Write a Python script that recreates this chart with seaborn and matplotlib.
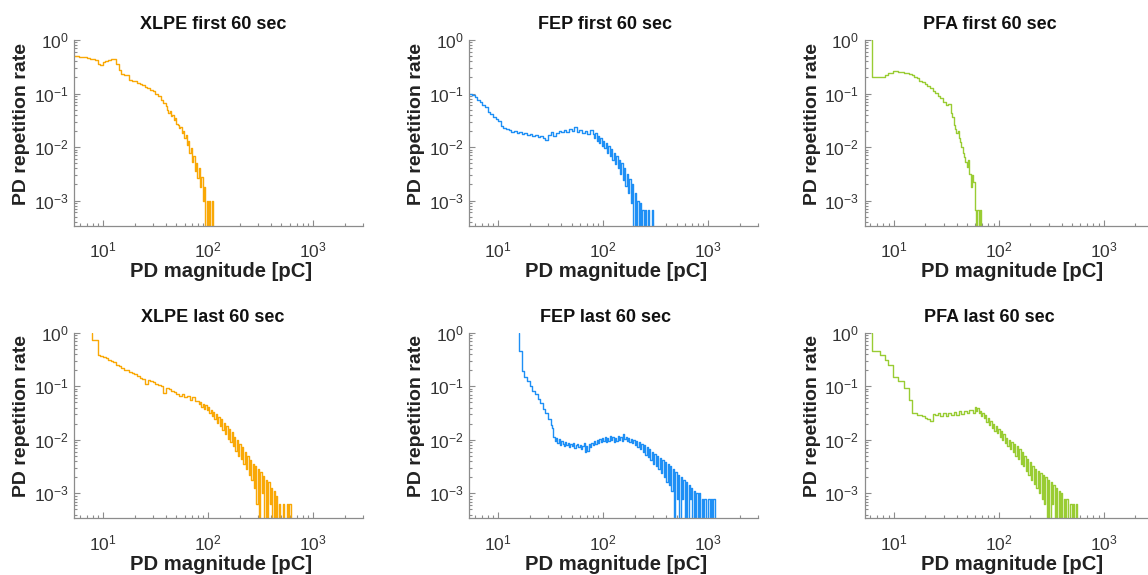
import numpy as np
import matplotlib
matplotlib.use("Agg")
import matplotlib.pyplot as plt
import seaborn as sns
from matplotlib.ticker import LogLocator, NullFormatter

# ---------------- data ----------------
# Every trace is a step histogram.  "head" bins are HEAD_STEP decades wide and start
# at *_lo [pC]; the first head entry is the level at which the trace starts at its left
# edge.  "tail" bins (noisy high-magnitude part) are TAIL_STEP decades wide and follow
# directly after the head.  0 = empty bin.
HEAD_STEP = 0.025
TAIL_STEP = 0.0125

xlpe_first_lo = 5.0
xlpe_first_head = [0.51, 0.51, 0.50, 0.50, 0.49, 0.48, 0.48, 0.47, 0.45, 0.44, 0.42,
                   0.355, 0.34, 0.38, 0.40, 0.43, 0.44, 0.44, 0.36, 0.275, 0.23, 0.224,
                   0.22, 0.182, 0.174, 0.17, 0.158, 0.151, 0.145, 0.135, 0.129, 0.117,
                   0.11, 0.10, 0.089, 0.076, 0.066]
xlpe_first_tail = [0.0575, 0.050, 0.0437, 0.048, 0.038, 0.040, 0.0316, 0.0347, 0.0275,
                   0.0263, 0.0229, 0.024, 0.0182, 0.020, 0.0145, 0.0166, 0.011, 0.0132,
                   0.0079, 0.0095, 0.0052, 0.0069, 0.0035, 0.0050, 0.0026, 0.0040, 0.0018,
                   0.0028, 0.0010, 0.0018, 0, 0.0010, 0, 0.0010, 0, 0.0010, 0]

fep_first_lo = 5.0
fep_first_head = [0.10, 0.10, 0.10, 0.0955, 0.087, 0.076, 0.069, 0.060, 0.055, 0.0457,
                  0.0417, 0.0363, 0.0331, 0.0302, 0.0251, 0.0229, 0.0219, 0.0209, 0.0191,
                  0.0200, 0.0182, 0.0191, 0.0174, 0.0186, 0.0166, 0.0178, 0.0158, 0.0166,
                  0.0151, 0.0158, 0.0145, 0.0138, 0.0166, 0.0191, 0.0158, 0.0182, 0.0200,
                  0.0191, 0.0209, 0.0191, 0.0219, 0.0200, 0.0240, 0.0191, 0.0209, 0.0182,
                  0.0200, 0.0174, 0.0209]
fep_first_tail = [0.0174, 0.0145, 0.0182, 0.0132, 0.0158, 0.012, 0.0145, 0.0105, 0.0132,
                  0.0095, 0.012, 0.0079, 0.0105, 0.0069, 0.0091, 0.0058, 0.0079, 0.0048,
                  0.0069, 0.0040, 0.0058, 0.0032, 0.0050, 0.0024, 0.0040, 0.0019, 0.0032,
                  0.0014, 0.0025, 0.00089, 0.0020, 0, 0.0014, 0, 0.0010, 0, 0.00089, 0,
                  0.00066, 0, 0.00066, 0, 0.00066, 0, 0, 0.00066, 0]

pfa_first_lo = 6.25
pfa_first_head = [1.0, 0.20, 0.20, 0.20, 0.20, 0.20, 0.224, 0.245, 0.245, 0.263, 0.263,
                  0.257, 0.257, 0.245, 0.240, 0.234, 0.219, 0.204, 0.191, 0.174, 0.162,
                  0.151, 0.138, 0.126, 0.112, 0.102, 0.091, 0.083, 0.069, 0.060, 0.063]
pfa_first_tail = [0.0437, 0.0363, 0.0263, 0.0219, 0.0182, 0.020, 0.0145, 0.0126, 0.010,
                  0.0079, 0.0066, 0.0052, 0.0042, 0.0058, 0.0032, 0.0018, 0.0030, 0.0022,
                  0.00068, 0, 0.00068, 0, 0.00068, 0]

xlpe_last_lo = 7.94
xlpe_last_head = [1.0, 0.72, 0.72, 0.38, 0.37, 0.347, 0.331, 0.309, 0.302, 0.282, 0.251,
                  0.234, 0.219, 0.20, 0.20, 0.186, 0.174, 0.166, 0.158, 0.145, 0.138,
                  0.110, 0.132, 0.126, 0.120, 0.110, 0.107, 0.102, 0.076, 0.093, 0.089,
                  0.083, 0.079, 0.072, 0.066, 0.071, 0.062, 0.065, 0.055, 0.063, 0.052]
xlpe_last_tail = [0.0525, 0.0457, 0.050, 0.0417, 0.0468, 0.038, 0.0437, 0.0355, 0.0417,
                  0.0316, 0.0363, 0.0275, 0.0331, 0.024, 0.0302, 0.0209, 0.0263, 0.0182,
                  0.024, 0.0151, 0.0209, 0.0126, 0.0182, 0.0105, 0.0158, 0.0091, 0.0138,
                  0.0076, 0.0115, 0.0063, 0.010, 0.0050, 0.0083, 0.0044, 0.0072, 0.0035,
                  0.0060, 0.0028, 0.0050, 0.0022, 0.0042, 0.0018, 0.0035, 0.00126, 0.0032,
                  0.00063, 0.0028, 0, 0.0025, 0.0010, 0.0021, 0, 0.0018, 0, 0.0016,
                  0.00063, 0.00126, 0, 0.0011, 0, 0.00089, 0, 0.00063, 0, 0, 0.00063, 0,
                  0, 0.00063, 0, 0.00063, 0]

fep_last_lo = 15.85
fep_last_head = [1.0, 0.447, 0.191, 0.151, 0.126, 0.100, 0.083, 0.072, 0.0575, 0.048,
                 0.038, 0.0316, 0.024]
fep_last_tail = [0.019, 0.0166, 0.0115, 0.0095, 0.011, 0.0087, 0.0105, 0.0079, 0.0095,
                 0.0083, 0.0076, 0.0091, 0.0079, 0.0087, 0.0072, 0.0083, 0.0076, 0.0087,
                 0.0069, 0.0079, 0.0083, 0.0072, 0.0079, 0.0066, 0.0076, 0.0087, 0.0058,
                 0.0076, 0.0063, 0.0083, 0.0072, 0.0087, 0.0079, 0.0095, 0.0083, 0.010,
                 0.0087, 0.0105, 0.0091, 0.011, 0.0095, 0.0115, 0.0091, 0.011, 0.0095,
                 0.012, 0.010, 0.0115, 0.0091, 0.011, 0.0095, 0.012, 0.010, 0.0115, 0.0095,
                 0.0126, 0.0105, 0.0115, 0.0095, 0.011, 0.0091, 0.0105, 0.0087, 0.010,
                 0.0079, 0.0095, 0.0072, 0.0091, 0.0066, 0.0083, 0.0060, 0.0079, 0.0052,
                 0.0072, 0.0048, 0.0066, 0.0042, 0.0060, 0.0036, 0.0055, 0.0032, 0.0050,
                 0.0028, 0.0046, 0.0024, 0.0042, 0.0020, 0.0038, 0.00166, 0.0035, 0.0014,
                 0.0032, 0.0011, 0.0028, 0, 0.0025, 0.00079, 0.0022, 0, 0.0020, 0.00079,
                 0.0018, 0, 0.0016, 0, 0.0014, 0.00079, 0.00126, 0, 0.0011, 0, 0.0010, 0,
                 0.0010, 0, 0.00079, 0, 0.00079, 0, 0, 0.00079, 0, 0.00079, 0, 0.00079, 0]

pfa_last_lo = 6.25
pfa_last_head = [1.0, 0.447, 0.447, 0.447, 0.38, 0.38, 0.309, 0.251, 0.251, 0.151, 0.151,
                 0.123, 0.123, 0.091, 0.091, 0.056, 0.0316, 0.0316, 0.0295, 0.0295,
                 0.0275, 0.0251, 0.024, 0.0229, 0.030, 0.0288, 0.0316, 0.0282, 0.031,
                 0.0275, 0.0316, 0.0288, 0.0331, 0.0295, 0.0339, 0.030, 0.0347, 0.0316,
                 0.0363]
pfa_last_tail = [0.0363, 0.0316, 0.0417, 0.0347, 0.040, 0.0316, 0.0347, 0.0275, 0.0316,
                 0.0251, 0.0288, 0.0219, 0.0251, 0.0191, 0.0229, 0.0166, 0.020, 0.0145,
                 0.0182, 0.0132, 0.0158, 0.0115, 0.0145, 0.010, 0.0126, 0.0087, 0.011,
                 0.0076, 0.010, 0.0066, 0.0091, 0.0060, 0.0083, 0.0050, 0.0076, 0.0044,
                 0.0066, 0.0036, 0.0058, 0.0032, 0.0050, 0.0026, 0.0044, 0.0022, 0.0038,
                 0.0018, 0.0033, 0.0015, 0.0029, 0.00126, 0.0026, 0.0010, 0.0024, 0.00079,
                 0.0022, 0.00063, 0.0020, 0, 0.0018, 0, 0.0016, 0.00063, 0.0014, 0,
                 0.00126, 0, 0.0011, 0, 0.0010, 0, 0.00079, 0, 0.00079, 0, 0, 0.00063, 0,
                 0.00063, 0, 0.00063, 0]

titles = ["XLPE first 60 sec", "FEP first 60 sec", "PFA first 60 sec",
          "XLPE last 60 sec", "FEP last 60 sec", "PFA last 60 sec"]
series = [(xlpe_first_lo, xlpe_first_head, xlpe_first_tail),
          (fep_first_lo, fep_first_head, fep_first_tail),
          (pfa_first_lo, pfa_first_head, pfa_first_tail),
          (xlpe_last_lo, xlpe_last_head, xlpe_last_tail),
          (fep_last_lo, fep_last_head, fep_last_tail),
          (pfa_last_lo, pfa_last_head, pfa_last_tail)]
colors = ["#F9A806", "#1E8FF5", "#99CC33", "#F9A806", "#1E8FF5", "#99CC33"]

x_ticks = [10, 100, 1000]
y_ticks = [1e-3, 1e-2, 1e-1, 1e0]
x_limits = (5.3, 3000)
y_limits = (3.4e-4, 1.0)
x_label = "PD magnitude [pC]"
y_label = "PD repetition rate"

# ---------------- styling ----------------
sns.set_theme(style="white")
plt.rcParams['font.family'] = ['Liberation Sans', 'DejaVu Sans']
plt.rcParams['mathtext.default'] = 'regular'

W, H = 1148, 575
fig = plt.figure(figsize=(W / 100, H / 100), dpi=100)

col_left = [74, 469.3, 864.7]
row_top = [40, 332.7]
ax_w, ax_h = 289, 185.7
title_x = [0.48, 0.47, 0.432]

for i, (title, (lo, head, tail), color) in enumerate(zip(titles, series, colors)):
    r, c = divmod(i, 3)
    ax = fig.add_axes([col_left[c] / W, 1 - (row_top[r] + ax_h) / H, ax_w / W, ax_h / H])
    head_edges = lo * 10 ** (HEAD_STEP * np.arange(len(head)))
    tail_edges = head_edges[-1] * 10 ** (TAIL_STEP * np.arange(1, len(tail) + 1))
    edges = np.concatenate([head_edges, tail_edges])
    rates = np.array(head + tail, dtype=float)
    sns.lineplot(x=edges, y=rates, ax=ax, color=color, linewidth=1.0,
                 drawstyle="steps-pre", estimator=None, sort=False)
    ax.set_xscale("log")
    ax.set_yscale("log")
    ax.set_xlim(*x_limits)
    ax.set_ylim(*y_limits)
    ax.set_xticks(x_ticks)
    ax.set_yticks(y_ticks)
    ax.xaxis.set_minor_locator(LogLocator(base=10, subs=np.arange(2, 10), numticks=20))
    ax.yaxis.set_minor_locator(LogLocator(base=10, subs=np.arange(2, 10), numticks=20))
    ax.xaxis.set_minor_formatter(NullFormatter())
    ax.yaxis.set_minor_formatter(NullFormatter())
    for s in ("top", "right"):
        ax.spines[s].set_visible(False)
    for s in ("left", "bottom"):
        ax.spines[s].set_color("#8c8c8c")
        ax.spines[s].set_linewidth(0.9)
    ax.tick_params(which="both", direction="in", color="#8c8c8c", width=0.8,
                   left=True, bottom=True, top=False, right=False,
                   labelsize=12.5, labelcolor="#333333")
    ax.tick_params(which="major", length=4)
    ax.tick_params(which="minor", length=2.2)
    ax.tick_params(axis="x", pad=11)
    ax.tick_params(axis="y", pad=4)
    ax.set_title(title, fontsize=13, fontweight="bold", pad=8, color="#111111")
    ax.title.set_x(title_x[c])
    ax.set_xlabel(x_label, fontsize=14.6, fontweight="bold", color="#222222")
    ax.set_ylabel(y_label, fontsize=14, fontweight="bold", color="#222222")
    ax.xaxis.set_label_coords(0.509, -0.195)
    ax.yaxis.set_label_coords(-0.152, 0.55)
    ax.grid(False)

fig.savefig("out.png", dpi=100)
